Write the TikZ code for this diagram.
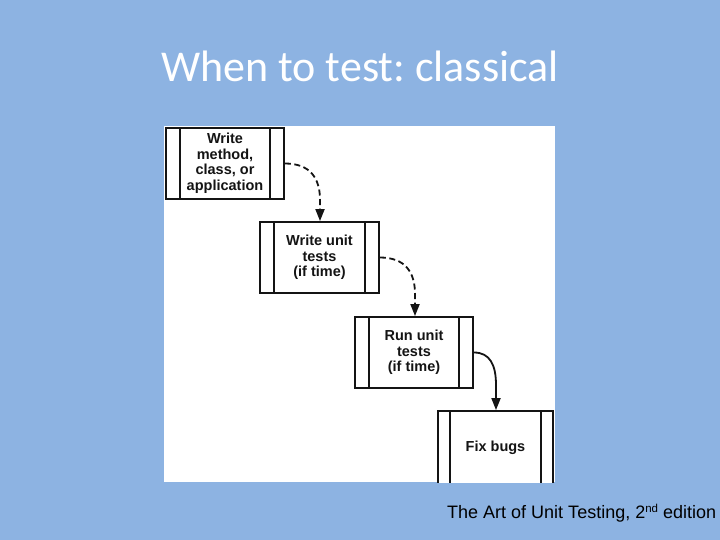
\documentclass[tikz,border=0pt]{standalone}
\usepackage{fontspec}
\setmainfont{Liberation Sans}
\newfontfamily\titlefont{Carlito}
\usetikzlibrary{arrows.meta}
\frenchspacing
\definecolor{slidebg}{RGB}{141,179,226}
\definecolor{ink}{RGB}{20,20,20}
\tikzset{
  procbox/.style={draw=ink, line width=1.8pt, fill=white, inner sep=0pt,
    align=center, text=ink,
    font=\fontsize{14.5}{15.5}\selectfont\bfseries,
    path picture={
      \draw[ink, line width=1.8pt]
        ([xshift=#1]path picture bounding box.north west) --
        ([xshift=#1]path picture bounding box.south west)
        ([xshift=-#1]path picture bounding box.north east) --
        ([xshift=-#1]path picture bounding box.south east);
    }},
  procbox/.default=14pt,
  flow/.style={draw=ink, line width=1.8pt, -{Triangle[length=12pt,width=9pt]}},
  flowdash/.style={flow, dash pattern=on 6pt off 3.5pt}
}
\begin{document}
\begin{tikzpicture}[x=1pt,y=-1pt]
\useasboundingbox (0,0) rectangle (720,540);
\fill[slidebg] (0,0) rectangle (720,540);
\node[anchor=base, text=white, font=\titlefont\fontsize{44}{50}\selectfont]
  (title) at (360,82) {When to test: classical};
\fill[white] (164,126) rectangle (555,482);
\begin{scope}
\clip (164,126) rectangle (555,482);
\node[procbox, minimum width=118pt, minimum height=71pt] (b1) at (225,163.5)
  {Write\\method,\\class, or\\application};
\node[procbox, minimum width=119pt, minimum height=71pt] (b2) at (319.5,257.5)
  {Write unit\\tests\\(if time)};
\node[procbox, minimum width=118pt, minimum height=71pt] (b3) at (414,352.5)
  {Run unit\\tests\\(if time)};
\node[procbox=12pt, minimum width=115pt, minimum height=73pt] (b4) at (495.5,447.5)
  {Fix bugs};
\end{scope}
\draw[flowdash] (b1.east) .. controls (310,163.5) and (320,178) .. (320,200) -- (b2.north -| 320,0);
\draw[flowdash] (b2.east) .. controls (405,257.5) and (415,272) .. (415,294) -- (b3.north -| 415,0);
\draw[flow] (b3.east) .. controls (490,352.5) and (496,365) .. (496,385) -- (b4.north -| 496,0);
\node[anchor=base west, inner sep=0pt, text=black, font=\fontsize{18}{21}\selectfont]
  (credit) at (447,518) {The Art of Unit Testing, 2{\fontsize{11.5}{12}\selectfont\raisebox{6pt}{nd}} edition};
\end{tikzpicture}
\end{document}
